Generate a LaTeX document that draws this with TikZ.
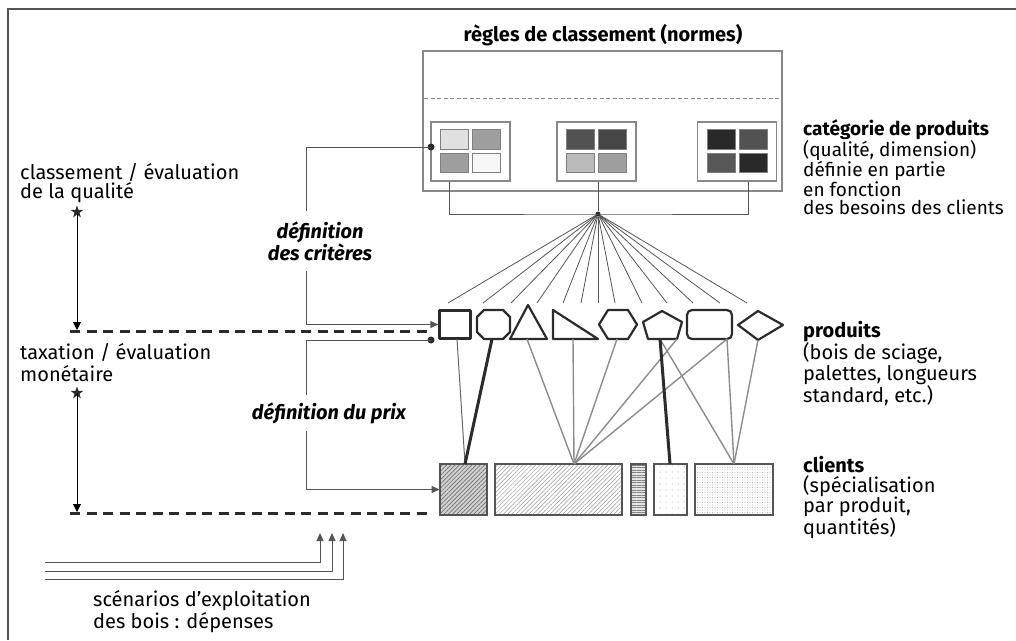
\documentclass[tikz,border=0pt]{standalone}
\usepackage{fontspec}
\setmainfont{Fira Sans}
\usetikzlibrary{arrows.meta,shapes.geometric,patterns.meta}
\definecolor{rim}{HTML}{888888}
\definecolor{ink}{HTML}{2B2B2B}
\definecolor{wire}{HTML}{555555}
\definecolor{link}{HTML}{8C8C8C}

\begin{document}
\begin{tikzpicture}[x=1pt,y=-1pt,
  note/.style={inner sep=0pt,anchor=north west,align=left,font=\fontsize{20}{21}\selectfont},
  catbox/.style={draw=rim,line width=1.2pt,minimum width=79pt,minimum height=59pt,inner sep=0pt},
  tile/.style={draw=gray,line width=0.8pt},
  prod/.style={draw=ink,line width=2.2pt,line join=round},
  client/.style={draw=wire,line width=1.2pt,inner sep=0pt},
  thin link/.style={draw=link,line width=1.4pt},
  heavy link/.style={draw=ink,line width=3pt},
  dash line/.style={draw=ink,line width=3pt,dash pattern=on 10pt off 6.5pt},
  feed/.style={draw=wire,line width=0.9pt,-{Triangle[length=8pt,width=7pt]}},
  joint/.style={circle,fill=ink,inner sep=0pt,minimum size=7pt},
  starpt/.style={star,star points=5,star point ratio=2.5,fill=ink,inner sep=0pt,minimum size=13pt},
]
\useasboundingbox (0,0) rectangle (1016,640);
\draw[wire,line width=2pt] (1016,9) -- (8,9) -- (8,640);

% rules of classification
\node[note,anchor=center,font=\fontsize{20}{21}\selectfont\bfseries] (title) at (603,35) {règles de classement (normes)};
\node[draw=rim,line width=1.2pt,minimum width=359pt,minimum height=140pt,inner sep=0pt] (rules) at (602.5,121) {};
\draw[rim,line width=1pt,dash pattern=on 4pt off 2.5pt] ([shift={(2,-23)}]rules.west) -- ([shift={(-3,-23)}]rules.east);
\node[catbox] (cat1) at (470.5,151.5) {};
\node[catbox] (cat2) at (596.5,151.5) {};
\node[catbox] (cat3) at (737,151.5) {};
\foreach \b/\ta/\tb/\tc/\td in {cat1/12/38/38/3,cat2/68/73/27/38,cat3/84/68/66/84}{
  \draw[tile,fill=black!\ta] ([shift={(-30,-22)}]\b.center) rectangle +(28,20);
  \draw[tile,fill=black!\tb] ([shift={(2,-22)}]\b.center) rectangle +(28,20);
  \draw[tile,fill=black!\tc] ([shift={(-30,2)}]\b.center) rectangle +(28,19);
  \draw[tile,fill=black!\td] ([shift={(2,2)}]\b.center) rectangle +(28,19);
}

% fan to products
\node[joint,minimum size=5pt] (hub) at (598,214) {};
\draw[wire,line width=1pt] ([xshift=-21.5pt]cat1.south) |- (hub.center) -| ([xshift=11pt]cat3.south);
\draw[wire,line width=1pt] ([xshift=1.5pt]cat2.south) -- (hub);
\foreach \x [count=\i] in {448,483,511,537,563,581,598,615,642,667,693,720,747}{
  \coordinate (fan\i) at (\x,303);
  \draw[wire,line width=0.8pt] (hub) -- (fan\i);
}

% products
\node[prod,minimum width=31pt,minimum height=28pt,inner sep=0pt] (sq) at (455,324.5) {};
\draw[prod] (484,310) -- (503,310) -- (510,317) -- (510,332) -- (503,339) -- (484,339) -- (477,332) -- (477,317) -- cycle;
\draw[prod] (528,305) -- (547,339) -- (510,339) -- cycle;
\draw[prod] (553,310) -- (598,339) -- (553,339) -- cycle;
\draw[prod] (608,310) -- (628,310) -- (637,324.5) -- (628,339) -- (608,339) -- (599,324.5) -- cycle;
\draw[prod] (662,311) -- (682,322) -- (677,339) -- (648,339) -- (643,322) -- cycle;
\draw[prod,rounded corners=5pt] (687,310) rectangle (732,339);
\draw[prod] (758,311) -- (783,325) -- (758,340) -- (738,325) -- cycle;
\coordinate (sqb) at (457,339);
\coordinate (octb) at (492,339);
\coordinate (trib) at (527,339);
\coordinate (rtrib) at (573,339);
\coordinate (hexb) at (617,339);
\coordinate (pentl) at (660,339);
\coordinate (pentr) at (677,339);
\coordinate (rrb) at (727,339);
\coordinate (diab) at (758,340);

% clients
\node[client,minimum width=47pt,minimum height=51pt,preaction={fill=black!18},pattern={Lines[angle=45,distance=3pt,line width=0.7pt]},pattern color=black!55] (c1) at (463.5,489.5) {};
\node[client,minimum width=127pt,minimum height=51pt,pattern={Lines[angle=45,distance=3pt,line width=0.5pt]},pattern color=black!40] (c2) at (558.5,489.5) {};
\node[client,minimum width=15pt,minimum height=51pt,preaction={fill=black!10},pattern={Lines[angle=0,distance=2.5pt,line width=0.6pt]},pattern color=black!50] (c3) at (638.5,489.5) {};
\node[client,minimum width=33pt,minimum height=51pt,pattern={Dots[distance=6pt,radius=0.5pt]},pattern color=black!50] (c4) at (670.5,489.5) {};
\node[client,minimum width=78pt,minimum height=51pt,pattern={Dots[distance=2.5pt,radius=0.45pt]},pattern color=black!45] (c5) at (734,489.5) {};
\coordinate (c1t) at (465,464);
\coordinate (c2t) at (574,464);
\coordinate (c4t) at (670,464);
\coordinate (c5t) at (734,464);

\draw[thin link,draw=black!60,line width=1pt] (sqb) -- (c1t);
\draw[heavy link] (octb) -- (c1t);
\draw[thin link] (trib) -- (c2t);
\draw[thin link] (rtrib) -- (c2t);
\draw[thin link] (hexb) -- (c2t);
\draw[thin link] (pentr) -- (c2t);
\draw[thin link] (rrb) -- (c2t);
\draw[thin link] (pentl) -- (c5t);
\draw[thin link] (rrb) -- (c5t);
\draw[thin link] (diab) -- (c5t);
\draw[heavy link] (pentl) -- (c4t);

% left side
\node[note,font=\fontsize{20}{19}\selectfont] (quality) at (20,163) {classement / évaluation\\de la qualité};
\node[starpt] (qstar) at (77,212) {};
\coordinate (qend) at (77,330);
\draw[black,line width=0.9pt,-{Triangle[length=8pt,width=8pt]}] (qstar.center) -- (qend);
\coordinate (dq0) at (70,331);
\coordinate (dq1) at (430,331);
\draw[dash line] (dq0) -- (dq1);

\node[note,font=\fontsize{20}{22}\selectfont] (money) at (20,343) {taxation / évaluation\\monétaire};
\node[starpt] (mstar) at (77,393) {};
\coordinate (mend) at (77,512);
\draw[black,line width=0.9pt,-{Triangle[length=8pt,width=8pt]}] (mstar.center) -- (mend);
\coordinate (dm0) at (70,513);
\coordinate (dm1) at (430,513);
\draw[dash line] (dm0) -- (dm1);

% criteria and price
\node[joint] (critdot) at (431,147) {};
\draw[feed] (critdot.center) -| ([xshift=-132pt]sq.west) -- (sq.west);
\node[note,anchor=center,align=center,fill=white,inner xsep=2pt,inner ysep=10pt,font=\fontsize{20}{22}\selectfont\bfseries\itshape] (crit) at (320,241) {définition\\des critères};
\node[joint] (pricedot) at (431,340) {};
\draw[feed] (pricedot.center) -| ([xshift=-133pt]c1.west) -- (c1.west);
\node[note,anchor=center,fill=white,inner xsep=2pt,inner ysep=7pt,font=\fontsize{20}{22}\selectfont\bfseries\itshape] (price) at (329,413) {définition du prix};

% costs
\coordinate (src1) at (45,562);
\coordinate (src2) at (45,571);
\coordinate (src3) at (45,579);
\coordinate (tip1) at (320,533);
\coordinate (tip2) at (332,533);
\coordinate (tip3) at (343,533);
\draw[feed] (src1) -| (tip1);
\draw[feed] (src2) -| (tip2);
\draw[feed] (src3) -| (tip3);
\node[note,font=\fontsize{20}{22}\selectfont] (costs) at (93,590) {scénarios d’exploitation\\des bois : dépenses};

% right side
\node[note,font=\fontsize{19}{18}\selectfont] (catnote) at (803,119) {\textbf{catégorie de produits}\\(qualité, dimension)\\définie en partie\\en fonction\\des besoins des clients};
\node[note,font=\fontsize{20}{20.5}\selectfont] (prodnote) at (803,321) {\textbf{produits}\\(bois de sciage,\\palettes, longueurs\\standard, etc.)};
\node[note,font=\fontsize{20}{20}\selectfont] (clinote) at (803,456) {\textbf{clients}\\(spécialisation\\par produit,\\quantités)};
\end{tikzpicture}
\end{document}
